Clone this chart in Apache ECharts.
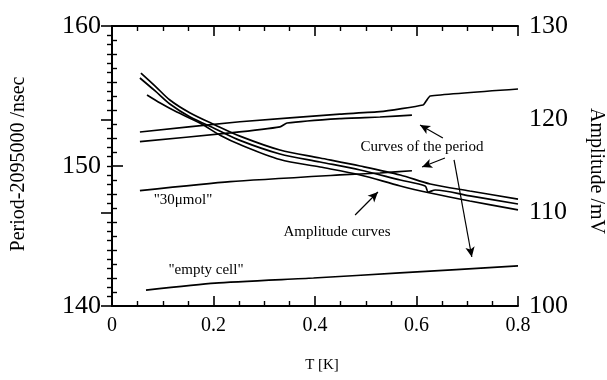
<!DOCTYPE html>
<html>
<head>
<meta charset="utf-8">
<script src="https://cdn.jsdelivr.net/npm/echarts@6/dist/echarts.min.js"></script>
<style>
html,body{margin:0;padding:0;background:#fff;}
#chart{width:607px;height:380px;}
</style>
</head>
<body>
<div id="chart"></div>
<script>
// ---- data (T in K) ----
// period curves, left axis (Period-2095000 / nsec)
var periodA_T = [0.055, 0.252, 0.449, 0.528, 0.613, 0.619, 0.627, 0.8];
var periodA_V = [152.43, 153.16, 153.71, 153.88, 154.36, 154.64, 155.0, 155.5];
var periodB_T = [0.055, 0.233, 0.331, 0.345, 0.449, 0.528, 0.591];
var periodB_V = [151.74, 152.36, 152.79, 153.07, 153.39, 153.5, 153.64];
var mol30_T = [0.055, 0.233, 0.449, 0.528, 0.591];
var mol30_V = [148.24, 148.88, 149.36, 149.5, 149.66];
var empty_T = [0.067, 0.203, 0.397, 0.567, 0.8];
var empty_V = [141.14, 141.64, 142.0, 142.36, 142.86];
// amplitude curves, right axis (mV)
var amp1_T = [0.057, 0.085, 0.114, 0.154, 0.203, 0.252, 0.331, 0.410, 0.489, 0.568, 0.627, 0.705, 0.8];
var amp1_V = [124.96, 123.57, 122.07, 120.68, 119.4, 118.2, 116.71, 115.86, 115.0, 114.04, 113.07, 112.32, 111.46];
var amp2_T = [0.055, 0.085, 0.114, 0.154, 0.203, 0.252, 0.331, 0.410, 0.489, 0.568, 0.617, 0.623, 0.637, 0.705, 0.8];
var amp2_V = [124.43, 123.04, 121.64, 120.25, 119.0, 117.75, 116.29, 115.43, 114.57, 113.5, 112.86, 112.21, 112.43, 111.79, 110.93];
var amp3_T = [0.069, 0.095, 0.124, 0.173, 0.213, 0.252, 0.331, 0.410, 0.489, 0.568, 0.627, 0.705, 0.8];
var amp3_V = [122.61, 121.75, 120.89, 119.6, 118.3, 117.3, 115.7, 114.89, 114.04, 112.86, 112.11, 111.25, 110.29];
// tick labels
var xTicks = ['0', '0.2', '0.4', '0.6', '0.8'];
var leftTicks = ['140', '150', '160'];
var rightTicks = ['100', '110', '120', '130'];

function pairs(t, v) { return t.map(function (x, i) { return [x, v[i]]; }); }

var FONT = 'Liberation Serif';
var chart = echarts.init(document.getElementById('chart'), null, {renderer: 'canvas'});

function xAxisCfg(pos, showLabel) {
  return {
    type: 'value', min: 0, max: 0.8, interval: 0.2, position: pos,
    axisLine: {show: true, lineStyle: {color: '#000', width: 2}},
    axisTick: {show: true, inside: true, length: 10, lineStyle: {color: '#000', width: 1.6}},
    minorTick: {show: true, splitNumber: 4, length: 5, lineStyle: {color: '#000', width: 1.4}},
    splitLine: {show: false},
    axisLabel: {show: showLabel, color: '#000', fontFamily: FONT, fontSize: 20, margin: 10,
      formatter: function (v) { return xTicks[Math.round(v / 0.2)]; }}
  };
}
function yAxisCfg(pos, min, max, labels) {
  return {
    type: 'value', min: min, max: max, interval: 10, position: pos,
    axisLine: {show: true, lineStyle: {color: '#000', width: 2}},
    axisTick: {show: true, inside: true, length: 11, lineStyle: {color: '#000', width: 1.6}},
    minorTick: {show: true, splitNumber: 10, length: 5, lineStyle: {color: '#000', width: 1.4}},
    splitLine: {show: false},
    axisLabel: {color: '#000', fontFamily: FONT, fontSize: 26, margin: 11,
      formatter: function (v) { return labels[Math.round((v - min) / 10)]; }}
  };
}

function lineSeries(name, t, v, yIdx, smooth) {
  return {
    name: name, type: 'line', xAxisIndex: 0, yAxisIndex: yIdx,
    data: pairs(t, v), showSymbol: false, smooth: smooth,
    lineStyle: {color: '#000', width: 1.7}, silent: true
  };
}

var arrows = [
  [[0.652, 152.0], [0.607, 152.93]],
  [[0.656, 150.57], [0.611, 149.93]],
  [[0.674, 150.43], [0.709, 143.5]],
  [[0.479, 146.5], [0.524, 148.14]]
];

var emptySeries = lineSeries('empty cell', empty_T, empty_V, 0, 0.2);
emptySeries.markLine = {
  silent: true, symbol: ['none', 'arrow'], symbolSize: [7, 10],
  label: {show: false},
  lineStyle: {color: '#000', width: 1.2, type: 'solid'},
  data: arrows.map(function (a) { return [{coord: a[0]}, {coord: a[1]}]; })
};

chart.setOption({
  animation: false,
  backgroundColor: '#fff',
  grid: {left: 112, right: 89, top: 26, bottom: 74, show: false},
  xAxis: [xAxisCfg('bottom', true), xAxisCfg('top', false)],
  yAxis: [yAxisCfg('left', 140, 160, leftTicks), yAxisCfg('right', 100, 130, rightTicks)],
  series: [
    lineSeries('period A', periodA_T, periodA_V, 0, 0.15),
    lineSeries('period B', periodB_T, periodB_V, 0, 0.15),
    lineSeries('30umol', mol30_T, mol30_V, 0, 0.2),
    emptySeries,
    lineSeries('amp 1', amp1_T, amp1_V, 1, 0.3),
    lineSeries('amp 2', amp2_T, amp2_V, 1, 0.3),
    lineSeries('amp 3', amp3_T, amp3_V, 1, 0.3)
  ],
  graphic: [
    {type: 'text', x: 19, y: 164, rotation: Math.PI / 2,
      style: {text: 'Period-2095000 /nsec', font: '20px "Liberation Serif"', fill: '#000', align: 'center', verticalAlign: 'middle'}},
    {type: 'text', x: 596, y: 171, rotation: -Math.PI / 2,
      style: {text: 'Amplitude /mV', font: '20px "Liberation Serif"', fill: '#000', align: 'center', verticalAlign: 'middle'}},
    {type: 'text', x: 322, y: 365,
      style: {text: 'T [K]', font: '15px "Liberation Serif"', fill: '#000', align: 'center', verticalAlign: 'middle'}},
    {type: 'text', x: 183, y: 200,
      style: {text: '"30\u03bcmol"', font: '15px "Liberation Serif"', fill: '#000', align: 'center', verticalAlign: 'middle'}},
    {type: 'text', x: 206, y: 270,
      style: {text: '"empty cell"', font: '15px "Liberation Serif"', fill: '#000', align: 'center', verticalAlign: 'middle'}},
    {type: 'text', x: 337, y: 232,
      style: {text: 'Amplitude curves', font: '15px "Liberation Serif"', fill: '#000', align: 'center', verticalAlign: 'middle'}},
    {type: 'text', x: 422, y: 147,
      style: {text: 'Curves of the period', font: '15px "Liberation Serif"', fill: '#000', align: 'center', verticalAlign: 'middle'}}
  ]
});
</script>
</body>
</html>
